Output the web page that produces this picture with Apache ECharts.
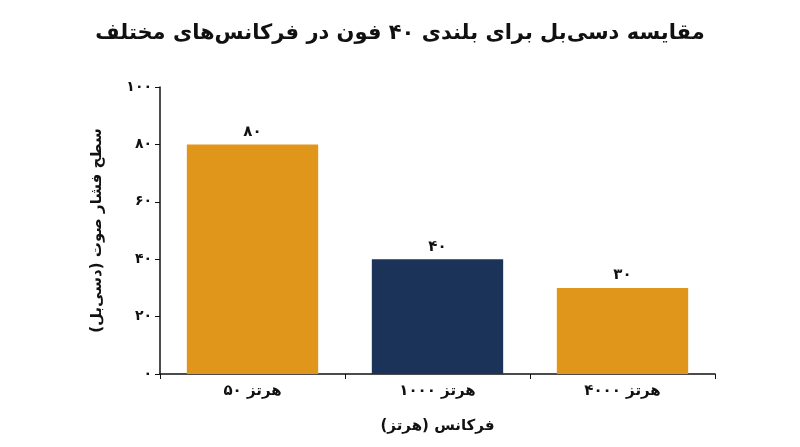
<!DOCTYPE html>
<html><head><meta charset="utf-8">
<script src="https://cdn.jsdelivr.net/npm/echarts@6/dist/echarts.min.js"></script>
<style>html,body{margin:0;padding:0;background:#fff}#c{width:800px;height:447px}</style>
</head><body><div id="c"></div>
<script>
const categories = ["۵۰ هرتز", "۱۰۰۰ هرتز", "۴۰۰۰ هرتز"];
const values = [80, 40, 30];
const valueLabels = ["۸۰", "۴۰", "۳۰"];
const barColors = ["#E0961A", "#1B3358", "#E0961A"];
const yTickLabels = {0:"۰",20:"۲۰",40:"۴۰",60:"۶۰",80:"۸۰",100:"۱۰۰"};
const FONT = "DejaVu Sans";
const chart = echarts.init(document.getElementById('c'));
chart.setOption({
  animation:false,
  title:{text:"مقایسه دسی‌بل برای بلندی ۴۰ فون در فرکانس‌های مختلف",left:'center',top:18,
    textStyle:{fontFamily:FONT,fontSize:21,fontWeight:'bold',color:'#111'}},
  grid:{left:160,right:85,top:87,bottom:73},
  xAxis:{type:'category',data:categories,
    axisLine:{lineStyle:{color:'#111',width:1.5}},axisTick:{show:true,alignWithLabel:false,lineStyle:{color:'#111'}},
    axisLabel:{fontFamily:FONT,fontSize:15,fontWeight:'bold',color:'#111',margin:10},
    name:"فرکانس (هرتز)",nameLocation:'middle',nameGap:45,
    nameTextStyle:{fontFamily:FONT,fontSize:15,fontWeight:'bold',color:'#111'}},
  yAxis:{type:'value',min:0,max:100,interval:20,
    axisLine:{show:true,lineStyle:{color:'#111',width:1.5}},axisTick:{show:true,lineStyle:{color:'#111'}},
    splitLine:{show:false},
    axisLabel:{fontFamily:FONT,fontSize:14,fontWeight:'bold',color:'#111',formatter:v=>yTickLabels[v]},
    name:"سطح فشار صوت (دسی‌بل)",nameLocation:'middle',nameGap:55,nameRotate:90,
    nameTextStyle:{fontFamily:FONT,fontSize:15,fontWeight:'bold',color:'#111'}},
  series:[{type:'bar',barWidth:'71%',
    data:values.map((v,i)=>({value:v,itemStyle:{color:barColors[i]}})),
    label:{show:true,position:'top',fontFamily:FONT,fontSize:15,fontWeight:'bold',color:'#111',
      formatter:p=>valueLabels[p.dataIndex]}}]
});
</script></body></html>
